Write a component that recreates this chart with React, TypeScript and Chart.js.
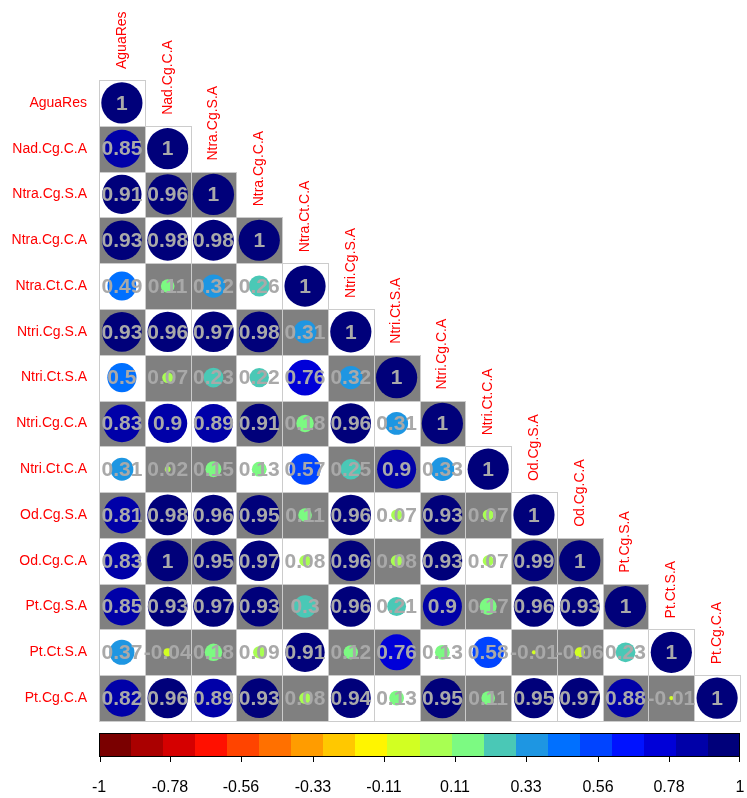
import { useEffect, useRef } from "react";
import { Chart, registerables } from "chart.js";

Chart.register(...registerables);

// Variable names, in matrix order
const variables = [
  "AguaRes",
  "Nad.Cg.C.A",
  "Ntra.Cg.S.A",
  "Ntra.Cg.C.A",
  "Ntra.Ct.C.A",
  "Ntri.Cg.S.A",
  "Ntri.Ct.S.A",
  "Ntri.Cg.C.A",
  "Ntri.Ct.C.A",
  "Od.Cg.S.A",
  "Od.Cg.C.A",
  "Pt.Cg.S.A",
  "Pt.Ct.S.A",
  "Pt.Cg.C.A",
];

// Lower triangle of the correlation matrix, one row per variable
const corrRows: number[][] = [
  [1],
  [0.85, 1],
  [0.91, 0.96, 1],
  [0.93, 0.98, 0.98, 1],
  [0.49, 0.11, 0.32, 0.26, 1],
  [0.93, 0.96, 0.97, 0.98, 0.31, 1],
  [0.5, 0.07, 0.23, 0.22, 0.76, 0.32, 1],
  [0.83, 0.9, 0.89, 0.91, 0.18, 0.96, 0.31, 1],
  [0.31, 0.02, 0.15, 0.13, 0.57, 0.25, 0.9, 0.33, 1],
  [0.81, 0.98, 0.96, 0.95, 0.11, 0.96, 0.07, 0.93, 0.07, 1],
  [0.83, 1, 0.95, 0.97, 0.08, 0.96, 0.08, 0.93, 0.07, 0.99, 1],
  [0.85, 0.93, 0.97, 0.93, 0.3, 0.96, 0.21, 0.9, 0.17, 0.96, 0.93, 1],
  [0.37, -0.04, 0.18, 0.09, 0.91, 0.12, 0.76, 0.13, 0.58, -0.01, -0.06, 0.23, 1],
  [0.82, 0.96, 0.89, 0.93, 0.08, 0.94, 0.13, 0.95, 0.11, 0.95, 0.97, 0.88, -0.01, 1],
];

// 20-step colour ramp from -1 to 1
const palette = [
  "#7a0000", "#aa0000", "#d50000", "#ff1000", "#ff4400",
  "#ff7000", "#ff9c00", "#ffc800", "#fff500", "#d2ff22",
  "#a8ff52", "#7cfa82", "#4ac8b6", "#1e96e2", "#0070ff",
  "#0044ff", "#0012ff", "#0000d8", "#0000a8", "#00007a",
];

// Colour key tick labels
const legendTicks = ["-1", "-0.78", "-0.56", "-0.33", "-0.11", "0.11", "0.33", "0.56", "0.78", "1"];

const N = variables.length;
const FONT = "'Liberation Sans', Arial, sans-serif";

function colorFor(v: number): string {
  let idx = Math.ceil(((v + 1) / 2) * palette.length - 1e-9) - 1;
  if (idx < 0) idx = 0;
  if (idx > palette.length - 1) idx = palette.length - 1;
  return palette[idx];
}

type Cell = { x: number; y: number; v: number; bg: string };

// Cells in column-major order of the lower triangle; backgrounds alternate along that order
function buildCells(): Cell[] {
  const cells: Cell[] = [];
  let k = 0;
  for (let j = 0; j < N; j++) {
    for (let i = j; i < N; i++) {
      cells.push({ x: j + 0.5, y: i + 0.5, v: corrRows[i][j], bg: k % 2 === 0 ? "#ffffff" : "#808080" });
      k++;
    }
  }
  return cells;
}

const corrPlugin = {
  id: "corrMatrix",
  beforeDatasetsDraw(chart: any) {
    const { ctx, scales } = chart;
    const xs = scales.x;
    const ys = scales.y;
    const cells: Cell[] = chart.data.datasets[0].data;
    ctx.save();
    for (const c of cells) {
      const x0 = Math.round(xs.getPixelForValue(c.x - 0.5));
      const x1 = Math.round(xs.getPixelForValue(c.x + 0.5));
      const y0 = Math.round(ys.getPixelForValue(c.y - 0.5));
      const y1 = Math.round(ys.getPixelForValue(c.y + 0.5));
      ctx.fillStyle = c.bg;
      ctx.fillRect(x0, y0, x1 - x0, y1 - y0);
    }
    ctx.strokeStyle = "#cccccc";
    ctx.lineWidth = 1;
    for (const c of cells) {
      const x0 = Math.round(xs.getPixelForValue(c.x - 0.5));
      const x1 = Math.round(xs.getPixelForValue(c.x + 0.5));
      const y0 = Math.round(ys.getPixelForValue(c.y - 0.5));
      const y1 = Math.round(ys.getPixelForValue(c.y + 0.5));
      ctx.strokeRect(x0 + 0.5, y0 + 0.5, x1 - x0, y1 - y0);
    }
    ctx.restore();
  },
  afterDatasetsDraw(chart: any) {
    const { ctx, scales, chartArea } = chart;
    const xs = scales.x;
    const ys = scales.y;
    const cells: Cell[] = chart.data.datasets[0].data;
    ctx.save();

    // coefficients
    ctx.font = `bold 21px ${FONT}`;
    ctx.fillStyle = "#a9a9a9";
    ctx.textAlign = "center";
    ctx.textBaseline = "middle";
    for (const c of cells) {
      ctx.fillText(String(c.v), xs.getPixelForValue(c.x), ys.getPixelForValue(c.y) + 1);
    }

    // row labels
    ctx.font = `14px ${FONT}`;
    ctx.fillStyle = "#ff0000";
    ctx.textAlign = "right";
    ctx.textBaseline = "middle";
    variables.forEach((name, i) => {
      ctx.fillText(name, chartArea.left - 12, ys.getPixelForValue(i + 0.5));
    });

    // column labels, sitting on top of the diagonal
    ctx.textAlign = "left";
    variables.forEach((name, j) => {
      const cx = xs.getPixelForValue(j + 0.5);
      const top = ys.getPixelForValue(j);
      ctx.save();
      ctx.translate(cx, top - 11);
      ctx.rotate(-Math.PI / 2);
      ctx.fillText(name, 0, 0);
      ctx.restore();
    });

    // colour key
    const barTop = chartArea.bottom + 12;
    const barH = 24;
    const keyX = (v: number) => xs.getPixelForValue(((v + 1) / 2) * N);
    const nSeg = palette.length;
    palette.forEach((col, s) => {
      const a = keyX(-1 + (2 * s) / nSeg);
      const b = keyX(-1 + (2 * (s + 1)) / nSeg);
      ctx.fillStyle = col;
      ctx.fillRect(Math.round(a), barTop, Math.round(b) - Math.round(a), barH);
    });
    ctx.strokeStyle = "#000000";
    ctx.lineWidth = 1;
    const kl = Math.round(keyX(-1));
    const kr = Math.round(keyX(1));
    ctx.strokeRect(kl + 0.5, barTop + 0.5, kr - kl - 1, barH - 1);

    ctx.font = `16px ${FONT}`;
    ctx.fillStyle = "#000000";
    ctx.textAlign = "center";
    ctx.textBaseline = "middle";
    legendTicks.forEach((t, k) => {
      const px = Math.round(keyX(-1 + (2 * k) / (legendTicks.length - 1)));
      const tx = Math.min(Math.max(px, kl + 1), kr - 1);
      ctx.beginPath();
      ctx.moveTo(tx + 0.5, barTop + barH);
      ctx.lineTo(tx + 0.5, barTop + barH + 5);
      ctx.stroke();
      ctx.fillText(t, px, barTop + barH + 31);
    });

    ctx.restore();
  },
};

export default function App() {
  const canvasRef = useRef<HTMLCanvasElement | null>(null);

  useEffect(() => {
    const canvas = canvasRef.current;
    if (!canvas) return;
    const cells = buildCells();
    const chart = new Chart(canvas, {
      type: "scatter",
      data: {
        datasets: [
          {
            data: cells as any,
            pointRadius: (ctx: any) => {
              const xs = ctx.chart.scales.x;
              if (!xs || !ctx.raw) return 0;
              const cell = xs.getPixelForValue(1) - xs.getPixelForValue(0);
              return 0.45 * cell * Math.sqrt(Math.abs(ctx.raw.v));
            },
            pointHoverRadius: (ctx: any) => {
              const xs = ctx.chart.scales.x;
              if (!xs || !ctx.raw) return 0;
              const cell = xs.getPixelForValue(1) - xs.getPixelForValue(0);
              return 0.45 * cell * Math.sqrt(Math.abs(ctx.raw.v));
            },
            pointBackgroundColor: (ctx: any) => (ctx.raw ? colorFor(ctx.raw.v) : "#000"),
            pointBorderWidth: 0,
            pointBorderColor: "rgba(0,0,0,0)",
          } as any,
        ],
      },
      options: {
        animation: false,
        responsive: false,
        devicePixelRatio: 1,
        events: [],
        layout: { padding: { left: 99, top: 80, right: 7, bottom: 77 } },
        scales: {
          x: { type: "linear", min: 0, max: N, display: false },
          y: { type: "linear", min: 0, max: N, reverse: true, display: false },
        },
        plugins: {
          legend: { display: false },
          tooltip: { enabled: false },
        },
      },
      plugins: [corrPlugin],
    });
    return () => chart.destroy();
  }, []);

  return (
    <div style={{ position: "fixed", left: 0, top: 0, width: 747, height: 798, background: "#ffffff" }}>
      <canvas ref={canvasRef} width={747} height={798} style={{ display: "block" }} />
    </div>
  );
}
